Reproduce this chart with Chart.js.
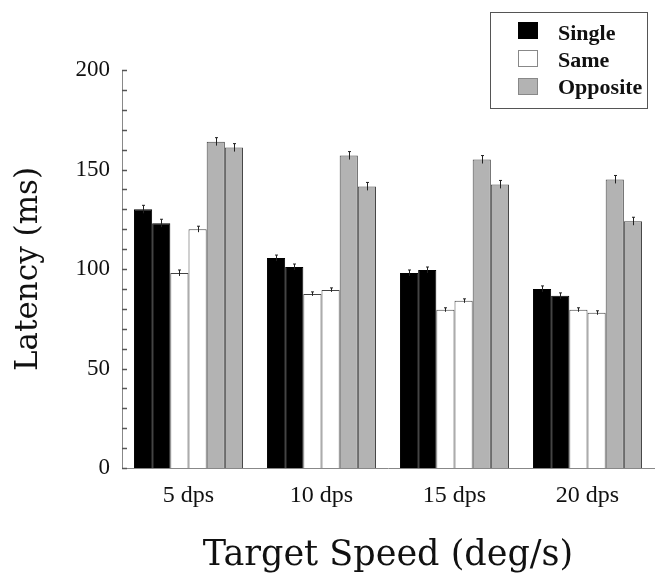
<!DOCTYPE html>
<html>
<head>
<meta charset="utf-8">
<script src="https://cdn.jsdelivr.net/npm/chart.js@4/dist/chart.umd.min.js"></script>
<style>
  html, body { margin: 0; padding: 0; background: #fff; }
  #wrap { width: 655px; height: 575px; }
</style>
</head>
<body>
<div id="wrap"><canvas id="c" width="655" height="575"></canvas></div>
<script>
// ---- data ----
const categories = ['5 dps', '10 dps', '15 dps', '20 dps'];
const seriesNames = ['Single', 'Same', 'Opposite'];
const singleA   = [130, 105.5, 98, 90];
const singleB   = [123, 101, 99.5, 86.5];
const sameA     = [98, 87.5, 79.5, 79.5];
const sameB     = [120, 89.5, 84, 78];
const oppositeA = [164, 157, 155, 145];
const oppositeB = [161, 141.5, 142.5, 124];
const errSingle   = [2, 1.5, 1.5, 1.5];
const errSame     = [1.5, 1, 1, 1];
const errOpposite = [2, 2, 2, 2];
const yTicks = [0, 50, 100, 150, 200];

const BLACK = '#000000', WHITE = '#ffffff', GRAY = '#b3b3b3', EDGE = '#444444';

function ds(label, data, color, err, group) {
  return {
    label, data, err, group,
    backgroundColor: color,
    borderColor: color === BLACK ? BLACK : EDGE,
    borderWidth: 1,
    barPercentage: 1.0,
    categoryPercentage: 0.82
  };
}

const datasets = [
  ds('Single', singleA, BLACK, errSingle, 0),
  ds('Single', singleB, BLACK, errSingle, 0),
  ds('Same', sameA, WHITE, errSame, 1),
  ds('Same', sameB, WHITE, errSame, 1),
  ds('Opposite', oppositeA, GRAY, errOpposite, 2),
  ds('Opposite', oppositeB, GRAY, errOpposite, 2)
];

const errorBars = {
  id: 'errorBars',
  afterDatasetsDraw(chart) {
    const ctx = chart.ctx, y = chart.scales.y;
    ctx.save();
    ctx.strokeStyle = '#222';
    ctx.lineWidth = 1;
    chart.data.datasets.forEach((d, i) => {
      const meta = chart.getDatasetMeta(i);
      meta.data.forEach((el, j) => {
        const v = d.data[j], e = d.err[j];
        const x = Math.round(el.x) + 0.5;
        ctx.beginPath();
        ctx.moveTo(x, y.getPixelForValue(v + e));
        ctx.lineTo(x, y.getPixelForValue(v - e));
        ctx.stroke();
        ctx.beginPath();
        ctx.moveTo(x - 1.5, y.getPixelForValue(v + e));
        ctx.lineTo(x + 1.5, y.getPixelForValue(v + e));
        ctx.stroke();
      });
    });
    ctx.restore();
  }
};

const minorTicks = {
  id: 'minorTicks',
  afterDraw(chart) {
    const ctx = chart.ctx, y = chart.scales.y, left = chart.chartArea.left;
    ctx.save();
    ctx.strokeStyle = '#555';
    ctx.lineWidth = 1.5;
    for (let v = y.min; v <= y.max; v += 10) {
      const py = Math.round(y.getPixelForValue(v)) + 0.5;
      ctx.beginPath();
      ctx.moveTo(left, py);
      ctx.lineTo(left + 5, py);
      ctx.stroke();
    }
    ctx.restore();
  }
};

const boxLegend = {
  id: 'boxLegend',
  afterDraw(chart) {
    const ctx = chart.ctx;
    ctx.save();
    ctx.strokeStyle = '#555';
    ctx.lineWidth = 1;
    ctx.strokeRect(490.5, 12.5, 157, 96);
    const fills = [BLACK, WHITE, GRAY];
    const tops = [22, 50, 78];
    const bases = [40, 67, 94];
    ctx.font = 'bold 22px "Liberation Serif"';
    ctx.textBaseline = 'alphabetic';
    ctx.textAlign = 'left';
    seriesNames.forEach((name, i) => {
      ctx.fillStyle = fills[i];
      ctx.fillRect(518, tops[i], 20, 17);
      ctx.strokeStyle = i === 0 ? BLACK : '#888';
      ctx.strokeRect(518.5, tops[i] + 0.5, 19, 16);
      ctx.fillStyle = '#111';
      ctx.fillText(name, 558, bases[i]);
    });
    ctx.restore();
  }
};

new Chart(document.getElementById('c'), {
  type: 'bar',
  data: { labels: categories, datasets },
  options: {
    responsive: false,
    animation: false,
    layout: { padding: { top: 70, right: 1, left: 0, bottom: 0 } },
    plugins: {
      legend: { display: false },
      tooltip: { enabled: false }
    },
    scales: {
      x: {
        grid: { display: false, drawTicks: false },
        border: { display: true, color: '#888', width: 1 },
        ticks: {
          color: '#111',
          padding: 13,
          font: { family: '"Liberation Serif"', size: 24 }
        },
        title: {
          display: true,
          text: 'Target Speed (deg/s)',
          color: '#111',
          padding: { top: 0, bottom: 0 },
          font: { family: '"DejaVu Serif"', size: 35, lineHeight: 1.1 }
        },
        afterFit: s => { s.height = 107; }
      },
      y: {
        min: 0, max: 200,
        afterBuildTicks: s => { s.ticks = yTicks.map(v => ({ value: v })); },
        grid: { display: false, drawTicks: false },
        border: { display: true, color: '#888', width: 1 },
        ticks: {
          color: '#111',
          padding: 12,
          font: { family: '"Liberation Serif"', size: 23 }
        },
        title: {
          display: true,
          text: 'Latency (ms)',
          color: '#111',
          padding: { top: 10, bottom: 0 },
          font: { family: '"DejaVu Serif"', size: 31, lineHeight: 1.2 }
        },
        afterFit: s => { s.width = 122; }
      }
    }
  },
  plugins: [errorBars, minorTicks, boxLegend]
});
</script>
</body>
</html>
